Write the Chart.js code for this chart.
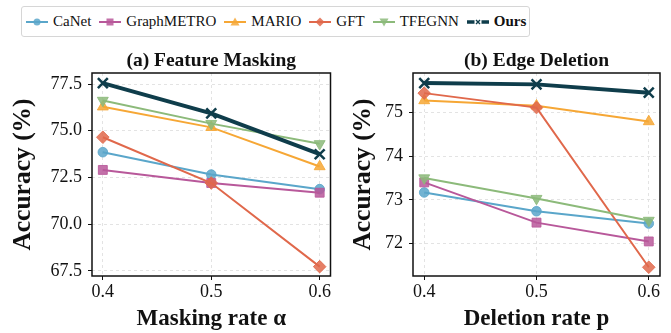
<!DOCTYPE html>
<html><head><meta charset="utf-8">
<script src="https://cdn.jsdelivr.net/npm/chart.js@4"></script>
<style>
body{margin:0;width:671px;height:333px;background:#fff;position:relative;overflow:hidden;font-family:"Liberation Serif","Times New Roman",serif}
#c1{position:absolute;left:0;top:0}
#c2{position:absolute;left:340px;top:0}
#legend{position:absolute;left:21px;top:6px;height:29px;border:1px solid #d6d6d6;border-radius:3px;display:flex;align-items:center;padding:0 3px 0 4px;background:#fff}
.it{display:flex;align-items:center;margin-right:8px;font-size:15px;color:#111;white-space:nowrap}
.it:last-child{margin-right:0}
.it svg{margin-right:5px}
</style></head><body>
<canvas id="c1" width="340" height="333"></canvas>
<canvas id="c2" width="331" height="333"></canvas>
<div id="legend"></div>
<script>
// ---- data ----
const rates = [0.4, 0.5, 0.6];
const methods = ['CaNet', 'GraphMETRO', 'MARIO', 'GFT', 'TFEGNN', 'Ours'];
// (a) Feature Masking, accuracy (%)
const maskCaNet      = [73.85, 72.65, 71.87];
const maskGraphMETRO = [72.90, 72.20, 71.68];
const maskMARIO      = [76.28, 75.18, 73.08];
const maskGFT        = [74.65, 72.20, 67.72];
const maskTFEGNN     = [76.62, 75.38, 74.30];
const maskOurs       = [77.55, 75.93, 73.74];
// (b) Edge Deletion, accuracy (%)
const delCaNet       = [73.17, 72.74, 72.46];
const delGraphMETRO  = [73.40, 72.48, 72.05];
const delMARIO       = [75.27, 75.15, 74.79];
const delGFT         = [75.44, 75.11, 71.46];
const delTFEGNN      = [73.50, 73.03, 72.53];
const delOurs        = [75.67, 75.64, 75.45];
// tick labels
const rateTicks = [0.4, 0.5, 0.6];
const maskTicks = [67.5, 70.0, 72.5, 75.0, 77.5];
const delTicks  = [72, 73, 74, 75];

// ---- styles ----
const styles = {
  CaNet:      {color:'#5aa6ca', point:'circle',   r:4.8, rot:0,   w:2, order:5},
  GraphMETRO: {color:'#b8589a', point:'rect',     r:6.3, rot:0,   w:2, order:4},
  MARIO:      {color:'#f6a735', point:'triangle', r:6.3, rot:0,   w:2, order:3},
  GFT:        {color:'#e0684b', point:'rectRot',  r:6.3, rot:0,   w:2, order:2},
  TFEGNN:     {color:'#8cba7a', point:'triangle', r:6.3, rot:180, w:2, order:1},
  Ours:       {color:'#0f3d4b', point:'crossRot', r:7,   rot:0,   w:4, order:0}
};

function alpha(hex, a){const n=parseInt(hex.slice(1),16);return `rgba(${n>>16},${(n>>8)&255},${n&255},${a})`;}

const framePlugin = {id:'frame', afterDraw(chart){
  const {ctx, chartArea:a} = chart;
  ctx.save(); ctx.strokeStyle='#111'; ctx.lineWidth=1.5;
  ctx.strokeRect(a.left, a.top, a.right-a.left, a.bottom-a.top); ctx.restore();
}};

function makeChart(id, title, xTitle, series, yMin, yMax, yTicks, dec, padRight, yWidth){
  const datasets = methods.map((m, i) => {
    const s = styles[m];
    return {
      label: m,
      data: rates.map((x, j) => ({x, y: series[i][j]})),
      borderColor: s.color,
      backgroundColor: alpha(s.color, 0.85),
      pointBackgroundColor: alpha(s.color, 0.85),
      pointBorderColor: m === 'Ours' ? s.color : alpha(s.color, 0.85),
      pointBorderWidth: m === 'Ours' ? 2.5 : 1,
      pointStyle: s.point, pointRadius: s.r, pointRotation: s.rot,
      borderWidth: s.w, tension: 0, order: s.order, clip: false
    };
  });
  const font = {family:'"Liberation Serif", "Times New Roman", serif'};
  return new Chart(document.getElementById(id), {
    type: 'line',
    data: {datasets},
    plugins: [framePlugin],
    options: {
      responsive:false, animation:false, events:[],
      layout:{padding:{left:0, top:49, right:padRight, bottom:0}},
      plugins:{
        legend:{display:false}, tooltip:{enabled:false},
        title:{display:true, text:title, fullSize:false, color:'#111',
               font:{...font, size:19.5, weight:'bold', lineHeight:1.2}, padding:{top:0, bottom:0.6}}
      },
      scales:{
        x:{type:'linear', min:0.39, max:0.61,
           afterBuildTicks: sc => { sc.ticks = rateTicks.map(v => ({value:v})); },
           afterFit: sc => { sc.height = 57; },
           ticks:{callback: v => v.toFixed(1), color:'#111', font:{...font, size:18}, padding:1, maxRotation:0},
           grid:{color:'#e3e3e3', lineWidth:1, tickLength:4, tickColor:'#111', tickWidth:1},
           border:{display:false, dash:[3,3]},
           title:{display:true, text:xTitle, color:'#111', font:{...font, size:23, weight:'bold', lineHeight:1.2}, padding:{top:0, bottom:0}}
        },
        y:{type:'linear', min:yMin, max:yMax,
           afterBuildTicks: sc => { sc.ticks = yTicks.map(v => ({value:v})); },
           afterFit: sc => { sc.width = yWidth; },
           ticks:{callback: v => v.toFixed(dec), color:'#111', font:{...font, size:18}, padding:6},
           grid:{color:'#e3e3e3', lineWidth:1, tickLength:4, tickColor:'#111', tickWidth:1},
           border:{display:false, dash:[3,3]},
           title:{display:true, text:'Accuracy (%)', color:'#111', font:{...font, size:25.5, weight:'bold', lineHeight:1.2}, padding:{top:8, bottom:0}}
        }
      }
    }
  });
}

makeChart('c1', '(a) Feature Masking', 'Masking rate α',
  [maskCaNet, maskGraphMETRO, maskMARIO, maskGFT, maskTFEGNN, maskOurs],
  67.22, 78.09, maskTicks, 1, 3, 92);
makeChart('c2', '(b) Edge Deletion', 'Deletion rate p',
  [delCaNet, delGraphMETRO, delMARIO, delGFT, delTFEGNN, delOurs],
  71.26, 75.9, delTicks, 0, 11, 73);

// ---- legend (HTML text, SVG handles) ----
function handle(m){
  const s = styles[m], c = s.color, a = alpha(c, 0.85);
  let mk = '';
  if (s.point === 'circle') mk = `<circle cx="11" cy="7" r="3.5" fill="${a}"/>`;
  else if (s.point === 'rect') mk = `<rect x="7.5" y="3.5" width="7" height="7" fill="${a}"/>`;
  else if (s.point === 'rectRot') mk = `<polygon points="11,2.5 15.5,7 11,11.5 6.5,7" fill="${a}"/>`;
  else if (s.point === 'triangle' && s.rot === 0) mk = `<polygon points="11,2.5 15.5,10.5 6.5,10.5" fill="${a}"/>`;
  else if (s.point === 'triangle') mk = `<polygon points="11,11.5 15.5,3.5 6.5,3.5" fill="${a}"/>`;
  else mk = `<path d="M9,5 L13,9 M13,5 L9,9" stroke="${c}" stroke-width="1.4"/>`;
  const line = m === 'Ours'
    ? `<line x1="0" y1="7" x2="7.5" y2="7" stroke="${c}" stroke-width="3.5"/><line x1="14.5" y1="7" x2="22" y2="7" stroke="${c}" stroke-width="3.5"/>`
    : `<line x1="0" y1="7" x2="22" y2="7" stroke="${c}" stroke-width="2"/>`;
  return `<svg width="22" height="14" viewBox="0 0 22 14">${line}${mk}</svg>`;
}
document.getElementById('legend').innerHTML = methods.map(m =>
  `<div class="it">${handle(m)}<span style="${m==='Ours'?'font-weight:bold':''}">${m}</span></div>`).join('');
</script>
</body></html>
